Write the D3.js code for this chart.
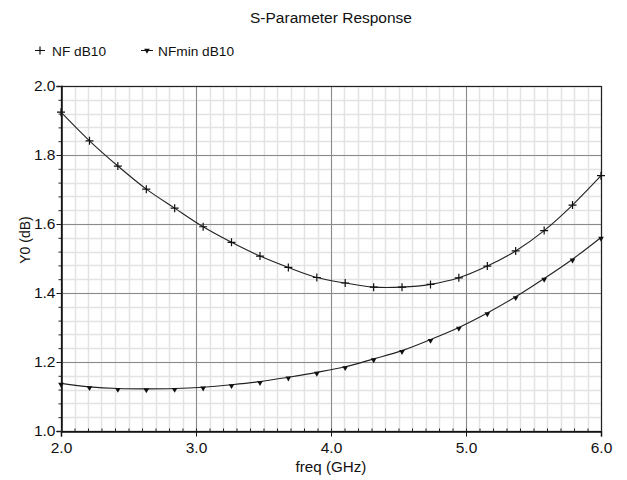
<!DOCTYPE html>
<html>
<head>
<meta charset="utf-8">
<script src="https://cdn.jsdelivr.net/npm/d3@7"></script>
<style>
  html, body { margin: 0; padding: 0; background: #fff; }
  svg { display: block; }
  text { font-family: "Liberation Sans", Arial, sans-serif; fill: #111; }
</style>
</head>
<body>
<svg id="chart" width="627" height="480"></svg>
<script>
// ---- data ----
const title = "S-Parameter Response";
const seriesNames = ["NF dB10", "NFmin dB10"];
const freq = [2.000, 2.211, 2.421, 2.632, 2.842, 3.053, 3.263, 3.474, 3.684, 3.895,
              4.105, 4.316, 4.526, 4.737, 4.947, 5.158, 5.368, 5.579, 5.789, 6.000];
const nf = [1.924, 1.841, 1.768, 1.701, 1.646, 1.592, 1.547, 1.507, 1.474, 1.445,
            1.429, 1.417, 1.417, 1.425, 1.444, 1.478, 1.522, 1.581, 1.655, 1.740];
const nfmin = [1.138, 1.128, 1.123, 1.122, 1.123, 1.127, 1.134, 1.143, 1.156, 1.170,
               1.186, 1.209, 1.233, 1.265, 1.300, 1.342, 1.389, 1.442, 1.498, 1.561];
const xTickValues = [2.0, 3.0, 4.0, 5.0, 6.0];
const yTickValues = [1.0, 1.2, 1.4, 1.6, 1.8, 2.0];
const xLabel = "freq (GHz)";
const yLabel = "Y0 (dB)";

// ---- layout ----
const svg = d3.select("#chart");
const L = 61, R = 601, T = 86, B = 431;
const x = d3.scaleLinear().domain([2, 6]).range([L, R]);
const y = d3.scaleLinear().domain([1, 2]).range([B, T]);

const fmt = d3.format(".1f");
const minorX = d3.range(0, 41).map(i => 2 + i * 0.1);
const minorY = d3.range(0, 26).map(i => 1 + i * 0.04);

svg.append("rect").attr("x", L).attr("y", T).attr("width", R - L).attr("height", B - T).attr("fill", "#fff");

// minor grid
const g = svg.append("g");
g.selectAll("line.mx").data(minorX).join("line")
  .attr("x1", d => Math.round(x(d)) + 0.5).attr("x2", d => Math.round(x(d)) + 0.5)
  .attr("y1", T).attr("y2", B).attr("stroke", "#e3e3e3").attr("stroke-width", 1.5);
g.selectAll("line.my").data(minorY).join("line")
  .attr("y1", d => Math.round(y(d)) + 0.5).attr("y2", d => Math.round(y(d)) + 0.5)
  .attr("x1", L).attr("x2", R).attr("stroke", "#e3e3e3").attr("stroke-width", 1.5);

// major grid
g.selectAll("line.Mx").data(xTickValues).join("line")
  .attr("x1", d => Math.round(x(d)) + 0.5).attr("x2", d => Math.round(x(d)) + 0.5)
  .attr("y1", T).attr("y2", B).attr("stroke", "#8a8a8a").attr("stroke-width", 1);
g.selectAll("line.My").data(yTickValues).join("line")
  .attr("y1", d => Math.round(y(d)) + 0.5).attr("y2", d => Math.round(y(d)) + 0.5)
  .attr("x1", L).attr("x2", R).attr("stroke", "#8a8a8a").attr("stroke-width", 1);

// frame
svg.append("rect").attr("x", L + 0.5).attr("y", T + 0.5).attr("width", R - L).attr("height", B - T)
  .attr("fill", "none").attr("stroke", "#222").attr("stroke-width", 1.2);

// axes
const xAxis = svg.append("g").attr("transform", `translate(0,${B + 0.5})`)
  .call(d3.axisBottom(x).tickValues(xTickValues).tickFormat(fmt).tickSize(5).tickPadding(5));
const yAxis = svg.append("g").attr("transform", `translate(${L + 0.5},0)`)
  .call(d3.axisLeft(y).tickValues(yTickValues).tickFormat(fmt).tickSize(5).tickPadding(1));
[xAxis, yAxis].forEach(a => {
  a.select(".domain").attr("stroke", "#111").attr("stroke-width", 1.5);
  a.selectAll(".tick line").attr("stroke", "#111");
  a.selectAll(".tick text").attr("font-size", 15.5).attr("font-family", null).attr("fill", "#111");
});
// minor ticks
svg.append("g").attr("transform", `translate(0,${B + 0.5})`)
  .call(d3.axisBottom(x).tickValues(minorX).tickFormat("").tickSize(-3))
  .call(s => { s.select(".domain").remove(); s.selectAll("line").attr("stroke", "#222"); });
svg.append("g").attr("transform", `translate(${L + 0.5},0)`)
  .call(d3.axisLeft(y).tickValues(minorY).tickFormat("").tickSize(3))
  .call(s => { s.select(".domain").remove(); s.selectAll("line").attr("stroke", "#222"); });

// lines
const line = d3.line().x(d => x(d[0])).y(d => y(d[1])).curve(d3.curveCatmullRom.alpha(0.5));
const nfPts = freq.map((f, i) => [f, nf[i]]);
const nfminPts = freq.map((f, i) => [f, nfmin[i]]);
svg.append("path").datum(nfPts).attr("d", line).attr("fill", "none").attr("stroke", "#222").attr("stroke-width", 1.1);
svg.append("path").datum(nfminPts).attr("d", line).attr("fill", "none").attr("stroke", "#222").attr("stroke-width", 1.1);

// markers
function drawPlus(sel, cx, cy, s) {
  sel.append("path").attr("d", `M${cx - s},${cy}H${cx + s}M${cx},${cy - s}V${cy + s}`)
    .attr("stroke", "#111").attr("stroke-width", 1.2).attr("fill", "none");
}
function drawDot(sel, cx, cy) {
  sel.append("path").attr("d", d3.symbol().type(d3.symbolTriangle).size(14)())
    .attr("transform", `translate(${cx},${cy + 1}) rotate(180)`).attr("fill", "#111");
}
const mk = svg.append("g");
nfPts.forEach(p => drawPlus(mk, x(p[0]), y(p[1]), 4));
nfminPts.forEach(p => drawDot(mk, x(p[0]), y(p[1])));

// title
svg.append("text").attr("x", (L + R) / 2).attr("y", 23).attr("text-anchor", "middle")
  .attr("font-size", 15.5).text(title);

// legend
const lg = svg.append("g");
const ly = 50.5;
lg.append("line").attr("x1", 35).attr("x2", 45).attr("y1", ly).attr("y2", ly).attr("stroke", "#111");
drawPlus(lg, 40, ly, 4);
lg.append("text").attr("x", 52).attr("y", ly + 5.5).attr("font-size", 13.7).text(seriesNames[0]);
lg.append("line").attr("x1", 141).attr("x2", 153).attr("y1", ly).attr("y2", ly).attr("stroke", "#111");
drawDot(lg, 147, ly - 1);
lg.append("text").attr("x", 158).attr("y", ly + 5.5).attr("font-size", 13.7).text(seriesNames[1]);

// axis labels
svg.append("text").attr("x", (L + R) / 2).attr("y", 472).attr("text-anchor", "middle")
  .attr("font-size", 15.2).text(xLabel);
svg.append("text").attr("transform", `translate(30,240) rotate(-90)`)
  .attr("text-anchor", "middle").attr("font-size", 14).text(yLabel);
</script>
</body>
</html>
